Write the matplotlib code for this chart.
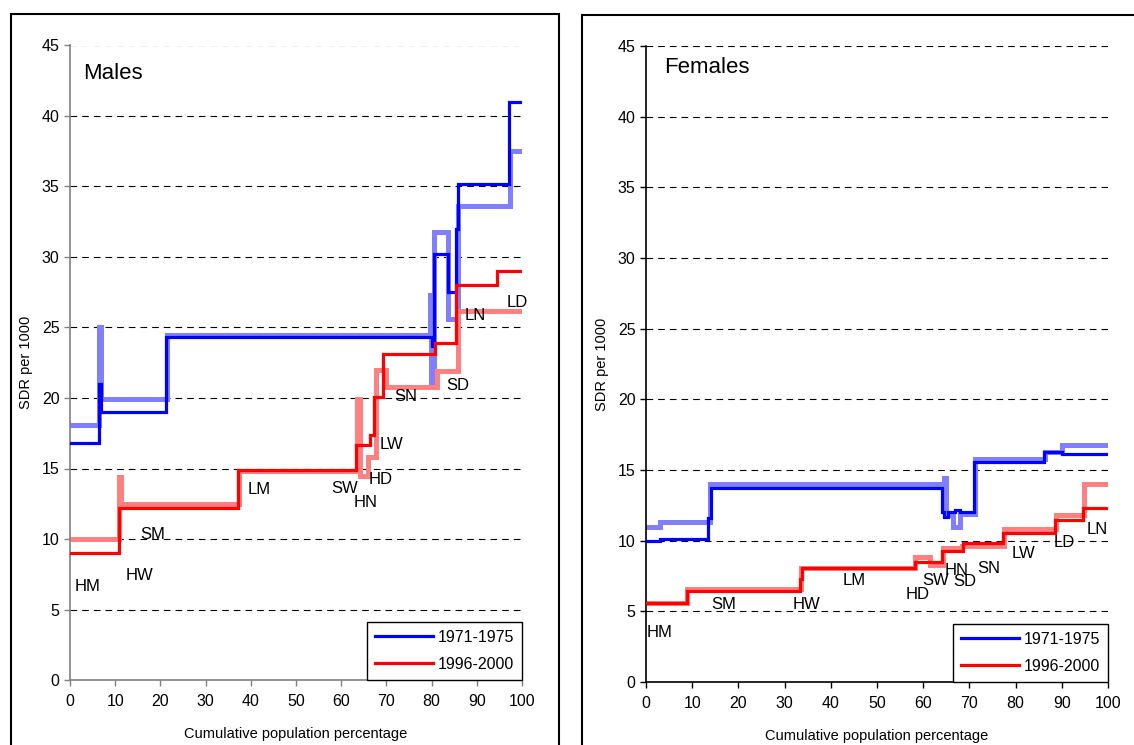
import matplotlib
matplotlib.use("Agg")
import matplotlib.pyplot as plt
from matplotlib.patches import Rectangle

plt.rcParams["font.family"] = ["Liberation Sans", "DejaVu Sans"]

BLUE, LBLUE, RED, LRED = "#0000ff", "#8080ff", "#ff0000", "#ff8080"

# ---- Males: step edges (cumulative %) and SDR per 1000 ----
m_b71_x = [0, 6.5, 6.8, 21.2, 80.0, 80.5, 83.7, 85.5, 85.9, 97.1, 100]
m_b71_y = [16.8, 21.0, 19.0, 24.3, 23.7, 30.2, 27.5, 32.0, 35.2, 41.0]
m_lb_x = [0, 6.5, 6.9, 21.5, 79.6, 79.9, 80.6, 83.6, 85.9, 97.3, 100]
m_lb_y = [18.1, 25.0, 19.9, 24.5, 27.3, 20.9, 31.8, 25.6, 33.6, 37.5]
m_r96_x = [0, 10.8, 37.1, 63.2, 66.4, 67.3, 69.3, 80.7, 85.5, 94.4, 100]
m_r96_y = [9.0, 12.2, 14.9, 16.7, 17.4, 20.1, 23.1, 23.9, 28.0, 29.0]
m_lr_x = [0, 10.8, 11.3, 37.3, 63.4, 64.2, 66.0, 67.7, 69.9, 81.1, 85.8, 100]
m_lr_y = [10.0, 14.4, 12.45, 14.8, 19.9, 14.5, 15.8, 22.0, 20.8, 21.9, 26.2]
m_lab = ["HM", "HW", "SM", "LM", "SW", "HN", "HD", "LW", "SN", "SD", "LN", "LD"]
m_lab_x = [1.1, 12.3, 15.5, 39.3, 57.7, 62.7, 66.0, 68.4, 71.7, 83.2, 87.2, 96.5]
m_lab_y = [6.6, 7.4, 10.3, 13.5, 13.6, 12.6, 14.2, 16.7, 20.1, 20.9, 25.85, 26.8]

# ---- Females ----
f_b71_x = [0, 3.0, 13.5, 14.1, 64.1, 64.6, 65.4, 66.8, 67.9, 71.0, 86.2, 90.0, 100]
f_b71_y = [10.0, 10.15, 11.6, 13.7, 12.0, 11.7, 12.0, 12.15, 12.0, 15.6, 16.3, 16.15]
f_lb_x = [0, 3.0, 13.8, 64.4, 65.0, 66.5, 68.0, 71.2, 86.4, 90.0, 100]
f_lb_y = [11.0, 11.35, 14.0, 14.4, 11.8, 11.0, 11.9, 15.75, 16.3, 16.75]
f_r96_x = [0, 8.9, 33.3, 33.7, 58.2, 64.0, 68.7, 77.3, 88.5, 94.6, 100]
f_r96_y = [5.6, 6.45, 7.3, 8.05, 8.5, 9.25, 9.85, 10.55, 11.45, 12.3]
f_lr_x = [0, 8.9, 33.5, 58.2, 61.4, 64.3, 68.5, 77.5, 88.8, 94.8, 100]
f_lr_y = [5.6, 6.6, 8.1, 8.85, 8.3, 9.45, 9.65, 10.85, 11.8, 14.0]
f_lab = ["HM", "SM", "HW", "LM", "HD", "SW", "HN", "SD", "SN", "LW", "LD", "LN"]
f_lab_x = [0.15, 14.1, 31.7, 42.6, 56.1, 59.7, 64.7, 66.5, 71.6, 79.2, 88.3, 95.4]
f_lab_y = [3.5, 5.45, 5.45, 7.15, 6.2, 7.15, 7.9, 7.1, 8.05, 9.1, 9.85, 10.8]

periods = ["1971-1975", "1996-2000"]


def steps(ax, xs, ys, **kw):
    ax.step(xs, list(ys) + [ys[-1]], where="post", solid_joinstyle="miter", **kw)


def panel(ax, title, tpos, spine, series, labs):
    (bx, by), (lbx, lby), (rx, ry), (lrx, lry) = series
    steps(ax, lbx, lby, color=LBLUE, lw=3.6, zorder=2)
    steps(ax, lrx, lry, color=LRED, lw=3.6, zorder=2)
    steps(ax, bx, by, color=BLUE, lw=2.3, zorder=3, label=periods[0])
    steps(ax, rx, ry, color=RED, lw=2.3, zorder=3, label=periods[1])
    for t, x, y in zip(*labs):
        ax.text(x, y, t, fontsize=12, va="center", ha="left", zorder=4)
    ax.text(tpos[0], tpos[1], title, fontsize=16, va="center", ha="left")
    ax.set_xlim(0, 100); ax.set_ylim(0, 45)
    ax.set_xticks(range(0, 101, 10)); ax.set_yticks(range(0, 46, 5))
    for v in range(5, 46, 5):
        ax.axhline(v, color="black", lw=0.8, ls=(0, (6, 4.5)), zorder=1)
    for s in ["top", "right"]:
        ax.spines[s].set_visible(False)
    for s in ["left", "bottom"]:
        ax.spines[s].set_color(spine); ax.spines[s].set_linewidth(1.2)
    ax.tick_params(direction="out", length=4, width=1, color=spine, labelsize=11.5)
    ax.tick_params(axis="x", pad=6)
    ax.set_xlabel("Cumulative population percentage", fontsize=10.5, labelpad=13)
    ax.set_ylabel("SDR per 1000", fontsize=10.5, labelpad=6)
    leg = ax.legend(loc="lower right", bbox_to_anchor=(1.0, 0.0), fontsize=11.5, frameon=True,
                    fancybox=False, borderaxespad=0, handlelength=3.6, handletextpad=0.3,
                    borderpad=0.5, labelspacing=0.75, framealpha=1)
    leg.get_frame().set_edgecolor("black"); leg.get_frame().set_linewidth(1.0)
    leg.set_zorder(5)


fig = plt.figure(figsize=(11.34, 7.45), dpi=100)
fig.patches.append(Rectangle((11/1134, -0.05), (559-11)/1134, 1.05 - 14/745, transform=fig.transFigure,
                             fill=False, ec="black", lw=1.5))
fig.patches.append(Rectangle((582/1134, -0.05), 0.5, 1.05 - 15/745, transform=fig.transFigure,
                             fill=False, ec="black", lw=1.5))

ax1 = fig.add_axes([70/1134, 1 - 680/745, (522-70)/1134, (680-45.5)/745])
panel(ax1, "Males", (2.9, 43.0), "#808080",
      [(m_b71_x, m_b71_y), (m_lb_x, m_lb_y), (m_r96_x, m_r96_y), (m_lr_x, m_lr_y)],
      (m_lab, m_lab_x, m_lab_y))

ax2 = fig.add_axes([646/1134, 1 - 682/745, (1108-646)/1134, (682-46)/745])
panel(ax2, "Females", (4.0, 43.5), "black",
      [(f_b71_x, f_b71_y), (f_lb_x, f_lb_y), (f_r96_x, f_r96_y), (f_lr_x, f_lr_y)],
      (f_lab, f_lab_x, f_lab_y))

fig.savefig("out.png", dpi=100, facecolor="white")
